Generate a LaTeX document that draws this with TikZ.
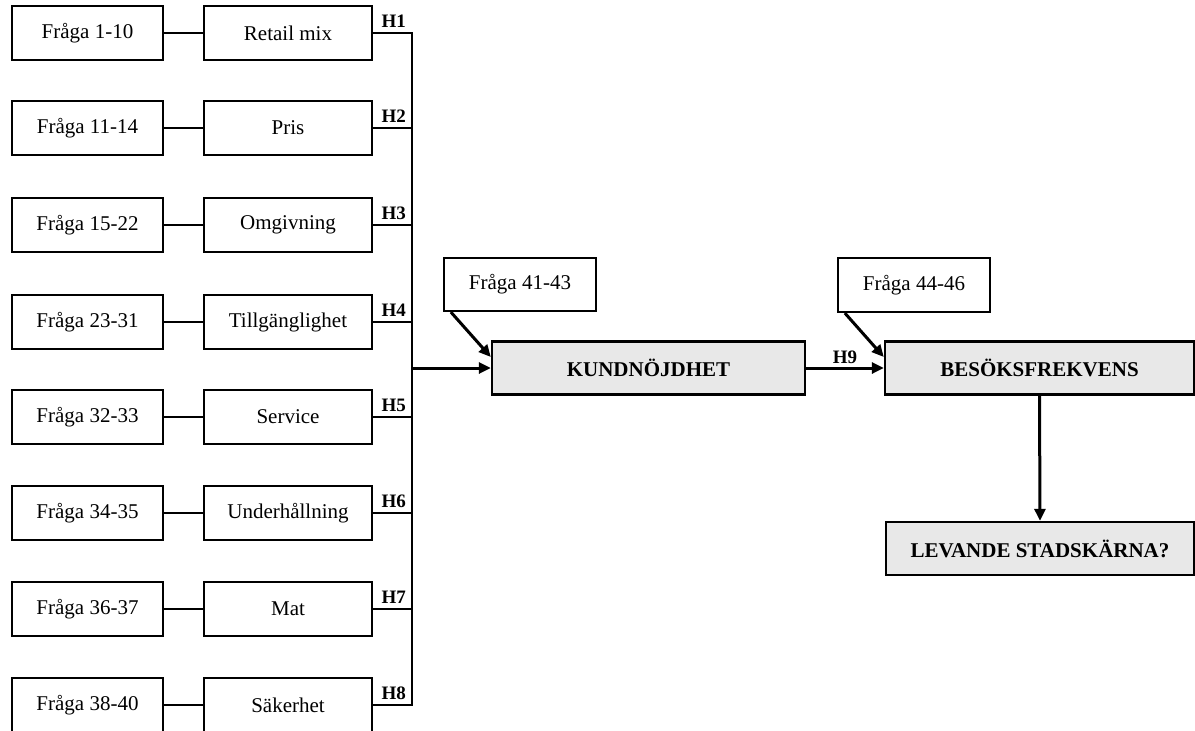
\documentclass[tikz,border=0pt]{standalone}
\usepackage{fontspec}
\setmainfont{Liberation Serif}
\usetikzlibrary{arrows.meta,calc}
\definecolor{boxgray}{HTML}{E8E8E8}
\tikzset{
  qbox/.style={draw=black, line width=2.2pt, fill=white, minimum width=151pt, minimum height=54pt, inner sep=0pt, font=\fontsize{21}{24}\selectfont},
  mbox/.style={qbox, minimum width=168pt},
  gbox/.style={draw=black, line width=2.4pt, fill=boxgray, minimum height=53pt, inner sep=0pt, font=\fontsize{21}{24}\selectfont\bfseries},
  conn/.style={line width=2.2pt},
  arr/.style={line width=3pt, -{Triangle[length=12pt,width=11pt]}},
  hl/.style={font=\fontsize{19}{22}\selectfont\bfseries, inner sep=0pt, anchor=base east},
}
\begin{document}
\begin{tikzpicture}[x=1pt,y=-1pt]
\useasboundingbox (0,0) rectangle (1195,731);
% left column
\node[qbox] (q1) at (87.5,33) {Fråga 1-10};
\node[qbox] (q2) at (87.5,128) {Fråga 11-14};
\node[qbox] (q3) at (87.5,225) {Fråga 15-22};
\node[qbox] (q4) at (87.5,322) {Fråga 23-31};
\node[qbox] (q5) at (87.5,417) {Fråga 32-33};
\node[qbox] (q6) at (87.5,513) {Fråga 34-35};
\node[qbox] (q7) at (87.5,609) {Fråga 36-37};
\node[qbox] (q8) at (87.5,705) {Fråga 38-40};
% middle column
\node[mbox] (m1) at (288,33) {Retail mix};
\node[mbox] (m2) at (288,128) {Pris};
\node[mbox] (m3) at (288,225) {Omgivning};
\node[mbox] (m4) at (288,322) {Tillgänglighet};
\node[mbox] (m5) at (288,417) {Service};
\node[mbox] (m6) at (288,513) {Underhållning};
\node[mbox] (m7) at (288,609) {Mat};
\node[mbox] (m8) at (288,705) {Säkerhet};
% right part
\node[qbox, minimum width=152pt, minimum height=53pt] (f41) at (520,284.5) {Fråga 41-43};
\node[qbox, minimum width=152pt, minimum height=54pt] (f44) at (914,285) {Fråga 44-46};
\node[gbox, minimum width=313pt] (k) at (648.5,368) {KUNDNÖJDHET};
\node[gbox, minimum width=309pt] (b) at (1039.5,368) {BESÖKSFREKVENS};
\node[gbox, minimum width=308pt] (l) at (1040,548.5) {LEVANDE STADSKÄRNA?};
\coordinate (bus) at (412,368);
% row connectors
\foreach \i in {1,...,8} {
  \draw[conn] (q\i.east) -- (m\i.east -| m\i.west);
}
\foreach \i in {2,...,7} {
  \draw[conn] (m\i.east) -- (m\i.east -| bus);
}
\draw[conn, line join=miter] (m1.east) -| (m8.east -| bus) -- (m8.east);
\foreach \i in {1,...,8} {
  \node[hl] at ($(m\i.east -| bus)+(-6,-6)$) {H\i};
}
% arrows
\draw[arr] (bus) -- (k.west);
\draw[arr] (k.east) -- node[hl, anchor=base, pos=0.5, yshift=5pt] {H9} (b.west);
\draw[arr] ([xshift=8pt]f41.south west) -- ([yshift=11pt]k.west);
\draw[arr] ([xshift=8pt]f44.south west) -- ([yshift=11pt]b.west);
\draw[arr] (b.south) -- (l.north);
\end{tikzpicture}
\end{document}
